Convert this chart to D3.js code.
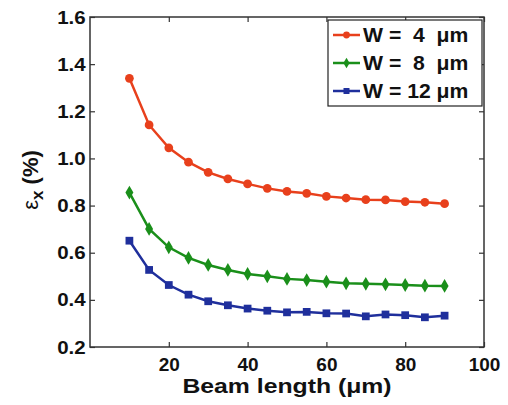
<!DOCTYPE html>
<html><head><meta charset="utf-8">
<script src="https://cdn.jsdelivr.net/npm/d3@7"></script>
<style>
html,body{margin:0;padding:0;background:#fff;}
text{font-family:"Liberation Sans",Arial,sans-serif;font-weight:bold;fill:#111;}
</style></head>
<body><svg id="c" width="508" height="405"></svg>
<script>
const beamLength = [10,15,20,25,30,35,40,45,50,55,60,65,70,75,80,85,90];
const w4  = [1.34,1.142,1.045,0.984,0.941,0.913,0.892,0.873,0.860,0.852,0.839,0.832,0.825,0.824,0.817,0.814,0.808];
const w8  = [0.855,0.701,0.623,0.578,0.548,0.527,0.510,0.500,0.489,0.484,0.477,0.470,0.468,0.466,0.463,0.460,0.459];
const w12 = [0.651,0.527,0.463,0.422,0.394,0.377,0.363,0.354,0.347,0.349,0.343,0.342,0.330,0.338,0.335,0.326,0.333];
const seriesNames = ["W =  4  \u03bcm","W =  8  \u03bcm","W = 12 \u03bcm"];
const seriesColors = ["#e8401c","#1a8f1a","#1f2f9c"];
const seriesShapes = ["circle","diamond","square"];
const xTicks = [20,40,60,80,100];
const yTicks = [0.2,0.4,0.6,0.8,1.0,1.2,1.4,1.6];

const svg = d3.select("#c");
const L=90,R=484,T=17,B=347;
const x = d3.scaleLinear().domain([0,100]).range([L,R]);
const y = d3.scaleLinear().domain([0.2,1.6]).range([B,T]);
const axisColor="#333";

// frame
svg.append("rect").attr("x",L).attr("y",T).attr("width",R-L).attr("height",B-T)
  .attr("fill","none").attr("stroke",axisColor).attr("stroke-width",1.5);

const gx = svg.append("g").attr("transform",`translate(0,${B})`)
  .call(d3.axisBottom(x).tickValues(xTicks).tickSize(-5).tickPadding(10).tickFormat(d3.format("d")));
const gxt = svg.append("g").attr("transform",`translate(0,${T})`)
  .call(d3.axisTop(x).tickValues(xTicks).tickSize(-5).tickFormat(""));
const gy = svg.append("g").attr("transform",`translate(${L},0)`)
  .call(d3.axisLeft(y).tickValues(yTicks).tickSize(-5).tickPadding(4).tickFormat(d3.format(".1f")));
const gyr = svg.append("g").attr("transform",`translate(${R},0)`)
  .call(d3.axisRight(y).tickValues(yTicks).tickSize(-5).tickFormat(""));
[gx,gxt,gy,gyr].forEach(g=>{
  g.select(".domain").remove();
  g.selectAll(".tick line").attr("stroke",axisColor).attr("stroke-width",1.2);
  g.selectAll("text").attr("font-size",19).attr("font-family","Liberation Sans, Arial, sans-serif")
   .attr("font-weight","bold").attr("fill","#111");
});
gx.selectAll("text").attr("dy","0.72em");
gy.selectAll("text").attr("transform","scale(1.08,1)");

// axis titles
svg.append("text").attr("transform","translate(287,393) scale(1.18,1)").attr("text-anchor","middle")
  .attr("font-size",21).text("Beam length (\u03bcm)");
const yl = svg.append("text").attr("transform","translate(38,180) rotate(-90)")
  .attr("text-anchor","middle").attr("font-size",22);
yl.append("tspan").attr("font-weight","normal").text("\u03b5");
yl.append("tspan").attr("dy",5).attr("font-size",17).text("x");
yl.append("tspan").attr("dy",-5).text(" (%)");

const sym = {circle:d3.symbolCircle, diamond:d3.symbolDiamond, square:d3.symbolSquare};
const symSize = {circle:60, diamond:55, square:60};
const data = [w4,w8,w12];
const line = d3.line().x(d=>x(d[0])).y(d=>y(d[1]));
data.forEach((vals,i)=>{
  const pts = beamLength.map((b,j)=>[b,vals[j]]);
  svg.append("path").datum(pts).attr("d",line).attr("fill","none")
    .attr("stroke",seriesColors[i]).attr("stroke-width",2.5);
  svg.selectAll(null).data(pts).enter().append("path")
    .attr("transform",d=>`translate(${x(d[0])},${y(d[1])})`)
    .attr("d",d3.symbol().type(sym[seriesShapes[i]]).size(symSize[seriesShapes[i]]))
    .attr("fill",seriesColors[i]);
});

// legend
const lg = svg.append("g");
lg.append("rect").attr("x",328).attr("y",20).attr("width",154).attr("height",86)
  .attr("fill","#fff").attr("stroke","#222").attr("stroke-width",1.2);
seriesNames.forEach((n,i)=>{
  const cy = 35 + i*28;
  lg.append("line").attr("x1",333).attr("x2",360).attr("y1",cy).attr("y2",cy)
    .attr("stroke",seriesColors[i]).attr("stroke-width",2.5);
  lg.append("path").attr("transform",`translate(346.5,${cy})`)
    .attr("d",d3.symbol().type(sym[seriesShapes[i]]).size(symSize[seriesShapes[i]]*0.6))
    .attr("fill",seriesColors[i]);
  lg.append("text").attr("transform",`translate(363,${cy+7}) scale(1.06,1)`).attr("font-size",20)
    .style("white-space","pre").attr("xml:space","preserve").text(n);
});
</script></body></html>
